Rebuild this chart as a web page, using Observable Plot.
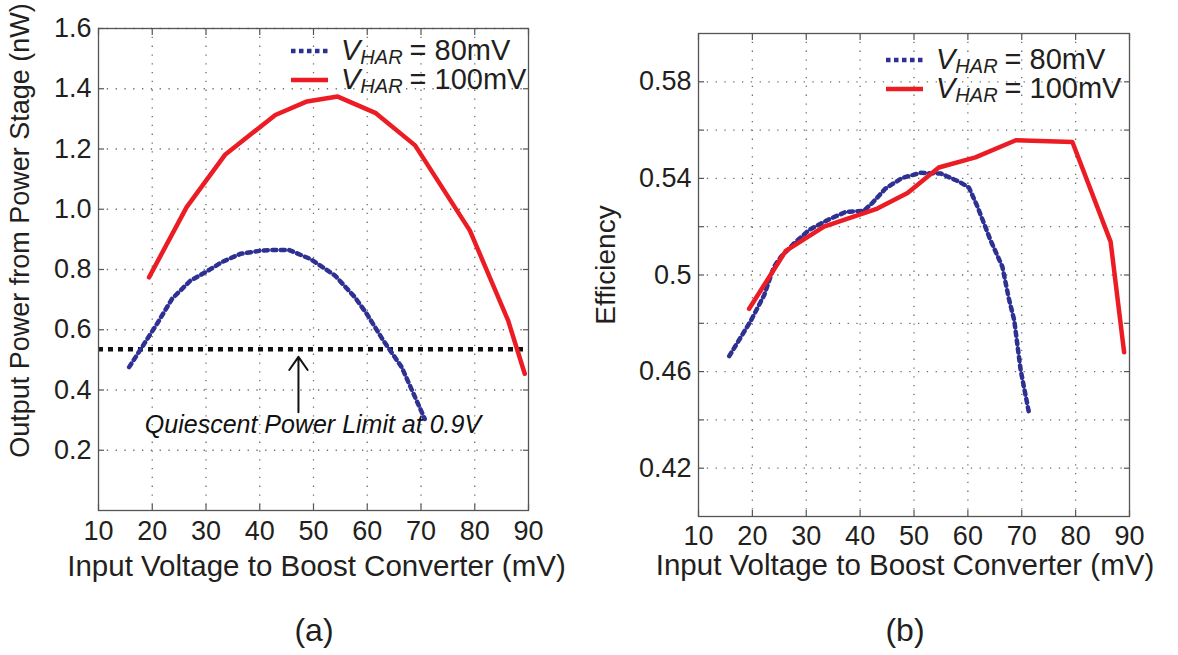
<!DOCTYPE html>
<html>
<head>
<meta charset="utf-8">
<script src="https://cdn.jsdelivr.net/npm/d3@7"></script>
<script src="https://cdn.jsdelivr.net/npm/@observablehq/plot@0.6"></script>
<style>
  body { margin: 0; background: #fff; }
  #wrap { position: relative; width: 1178px; height: 655px; overflow: hidden;
          font-family: "Liberation Sans", Arial, Helvetica, sans-serif; color: #231f20; }
  .panel { position: absolute; top: 0; }
  .cap { position: absolute; font-size: 32px; transform: translate(-50%, -50%); white-space: nowrap; }
  .legend { position: absolute; font-size: 29px; }
  .legend .row { display: flex; align-items: center; height: 29px; white-space: nowrap; }
  .legend .row svg { margin-right: 13px; flex: none; }
  .legend i { font-style: italic; }
  .legend .sub { font-size: 20px; font-style: italic; position: relative; top: 7px; margin-right: 7px; }
</style>
</head>
<body>
<div id="wrap"></div>
<script>
// ---------- data ----------
const xTicks = [10, 20, 30, 40, 50, 60, 70, 80, 90];
const powerTicks = [0.2, 0.4, 0.6, 0.8, 1.0, 1.2, 1.4, 1.6];
const effTickLabels = [0.42, 0.46, 0.5, 0.54, 0.58];
const effGrid = [0.42, 0.44, 0.46, 0.48, 0.5, 0.52, 0.54, 0.56, 0.58];

const seriesNames = ["VHAR = 80mV", "VHAR = 100mV"];

const power80X = [15.7, 17.9, 20.9, 23.7, 27.1, 29.9, 33, 36.4, 40, 42, 45.4, 49.4, 54, 57.7, 59.9, 63, 66.4, 70.7];
const power80Y = [0.476, 0.537, 0.62, 0.703, 0.763, 0.791, 0.825, 0.852, 0.862, 0.865, 0.865, 0.835, 0.78, 0.708, 0.653, 0.564, 0.476, 0.304];
const power100X = [19.4, 26.4, 33.6, 42.9, 48.8, 54.5, 61.6, 68.9, 79.1, 86.2, 89.3];
const power100Y = [0.774, 1.007, 1.182, 1.313, 1.358, 1.374, 1.319, 1.212, 0.929, 0.631, 0.454];

const eff80X = [15.7, 19.7, 22.2, 24.0, 25.3, 27.7, 30.5, 33.9, 37.3, 40.7, 42.3, 44.7, 47.8, 51.2, 55.0, 58.4, 60.2, 61.8, 64.2, 66.4, 67.6, 68.6, 69.8, 71.3];
const eff80Y = [0.4664, 0.481, 0.4917, 0.5034, 0.5075, 0.513, 0.5186, 0.5227, 0.5261, 0.5266, 0.5299, 0.5358, 0.5402, 0.5423, 0.542, 0.5386, 0.5362, 0.5282, 0.5144, 0.5034, 0.4903, 0.4813, 0.4606, 0.4434];
const eff100X = [19.4, 26.2, 33.3, 43.2, 48.8, 54.6, 61.4, 68.9, 79.4, 86.5, 89.0];
const eff100Y = [0.486, 0.510, 0.520, 0.5275, 0.534, 0.5445, 0.5487, 0.5558, 0.5551, 0.5137, 0.468];

const quiescentLimit = [0.535];
const quiescentText = "Quiescent Power Limit at 0.9V";
const annotArrow = [{x: 47.2, from: 0.326, to: 0.51}];
const annotTextPos = [{x: 49.9, y: 0.285}];

const xTitle = "Input Voltage to Boost Converter (mV)";
const yTitleA = "Output Power from Power Stage (nW)";
const yTitleB = "Efficiency";

// ---------- styles ----------
const RED = "#ec1c24";
const BLUE = "#2e3192";
const INK = "#231f20";
const FONT = '"Liberation Sans", Arial, Helvetica, sans-serif';

const toRows = (xs, ys) => xs.map((x, i) => ({x, y: ys[i]}));
const power80 = toRows(power80X, power80Y);
const power100 = toRows(power100X, power100Y);
const eff80 = toRows(eff80X, eff80Y);
const eff100 = toRows(eff100X, eff100Y);

function frameMarks(yTicks, yGrid, yFormat, yPad, xPad) {
  const grid = {stroke: "#6d6e71", strokeOpacity: 1, strokeWidth: 1.3, strokeDasharray: "1.3,7.5"};
  const tick = {stroke: "#555", strokeWidth: 1.2, tickSize: 6, fill: "none", label: null};
  return [
    Plot.gridX(xTicks.slice(1, -1), grid),
    Plot.gridY(yGrid, grid),
    Plot.axisX(xTicks, {anchor: "bottom", ...tick, dy: -6}),
    Plot.axisX(xTicks, {anchor: "top", ...tick, dy: 6}),
    Plot.axisY(yGrid, {anchor: "left", ...tick, dx: 6}),
    Plot.axisY(yGrid, {anchor: "right", ...tick, dx: -6}),
    Plot.axisX(xTicks, {anchor: "bottom", tickSize: 0, tickPadding: xPad, label: null, fill: INK, fontSize: 27}),
    Plot.axisY(yTicks, {anchor: "left", tickSize: 0, tickPadding: yPad, label: null, fill: INK, fontSize: 27, tickFormat: yFormat})
  ];
}

const wrap = document.getElementById("wrap");

// ---------- panel (a) ----------
const plotA = Plot.plot({
  width: 589, height: 600,
  marginLeft: 98, marginRight: 61, marginTop: 28, marginBottom: 90,
  style: {fontFamily: FONT, color: INK, background: "transparent", overflow: "visible"},
  x: {domain: [10, 90]},
  y: {domain: [0, 1.6]},
  marks: [
    ...frameMarks(powerTicks, powerTicks, d3.format(".1f"), 7, 10),
    Plot.ruleY(quiescentLimit, {stroke: "#111", strokeWidth: 4.5, strokeDasharray: "5,5"}),
    Plot.line(power80, {x: "x", y: "y", stroke: BLUE, strokeWidth: 4.5, strokeDasharray: "4,4.5"}),
    Plot.line(power100, {x: "x", y: "y", stroke: RED, strokeWidth: 4.5}),
    Plot.arrow(annotArrow, {x1: "x", x2: "x", y1: "from", y2: "to", stroke: "#111", strokeWidth: 2, headLength: 12, headAngle: 70}),
    Plot.text(annotTextPos, {x: "x", y: "y", text: () => quiescentText, fontStyle: "italic", fontSize: 25, fill: "#111"}),
    Plot.frame({stroke: "#555", strokeWidth: 1.3}),
    Plot.text([xTitle], {frameAnchor: "bottom", textAnchor: "middle", lineAnchor: "middle", dx: 3, dy: 56, fontSize: 29.5, fill: INK}),
    Plot.text([yTitleA], {frameAnchor: "left", textAnchor: "middle", lineAnchor: "middle", rotate: -90, dx: -78, dy: -39, fontSize: 27, fill: INK})
  ]
});
plotA.classList.add("panel");
plotA.style.left = "0px";
wrap.appendChild(plotA);

// ---------- panel (b) ----------
const plotB = Plot.plot({
  width: 589, height: 600,
  marginLeft: 109, marginRight: 49, marginTop: 33, marginBottom: 84,
  style: {fontFamily: FONT, color: INK, background: "transparent", overflow: "visible"},
  x: {domain: [10, 90]},
  y: {domain: [0.4, 0.6]},
  marks: [
    ...frameMarks(effTickLabels, effGrid, d => String(d), 7, 9),
    Plot.line(eff80, {x: "x", y: "y", stroke: BLUE, strokeWidth: 1.2}),
    Plot.line(eff80, {x: "x", y: "y", stroke: BLUE, strokeWidth: 4.5, strokeDasharray: "4,4.5"}),
    Plot.line(eff100, {x: "x", y: "y", stroke: RED, strokeWidth: 4.5}),
    Plot.frame({stroke: "#555", strokeWidth: 1.3}),
    Plot.text([xTitle], {frameAnchor: "bottom", textAnchor: "middle", lineAnchor: "middle", dx: -9, dy: 49, fontSize: 29.5, fill: INK}),
    Plot.text([yTitleB], {frameAnchor: "left", textAnchor: "middle", lineAnchor: "middle", rotate: -90, dx: -92, dy: -10, fontSize: 28, fill: INK})
  ]
});
plotB.classList.add("panel");
plotB.style.left = "589px";
wrap.appendChild(plotB);

// ---------- legends & captions ----------
function legend(left, top) {
  const div = document.createElement("div");
  div.className = "legend";
  div.style.left = left + "px";
  div.style.top = top + "px";
  const styles = [
    {stroke: BLUE, dash: "4.5,3.5"},
    {stroke: RED, dash: null}
  ];
  seriesNames.forEach((name, i) => {
    const val = name.split("= ")[1];
    const s = styles[i];
    const row = document.createElement("div");
    row.className = "row";
    row.innerHTML =
      `<svg width="37" height="10"><line x1="0" x2="37" y1="5" y2="5" stroke="${s.stroke}" stroke-width="4.5" ${s.dash ? `stroke-dasharray="${s.dash}"` : ""}/></svg>` +
      `<i>V</i><span class="sub">HAR</span><span>=&nbsp;${val}</span>`;
    div.appendChild(row);
  });
  wrap.appendChild(div);
}
legend(291, 36);
legend(886, 45);

[["(a)", 314, 630], ["(b)", 905, 630]].forEach(([t, x, y]) => {
  const c = document.createElement("div");
  c.className = "cap";
  c.textContent = t;
  c.style.left = x + "px";
  c.style.top = y + "px";
  wrap.appendChild(c);
});
</script>
</body>
</html>
